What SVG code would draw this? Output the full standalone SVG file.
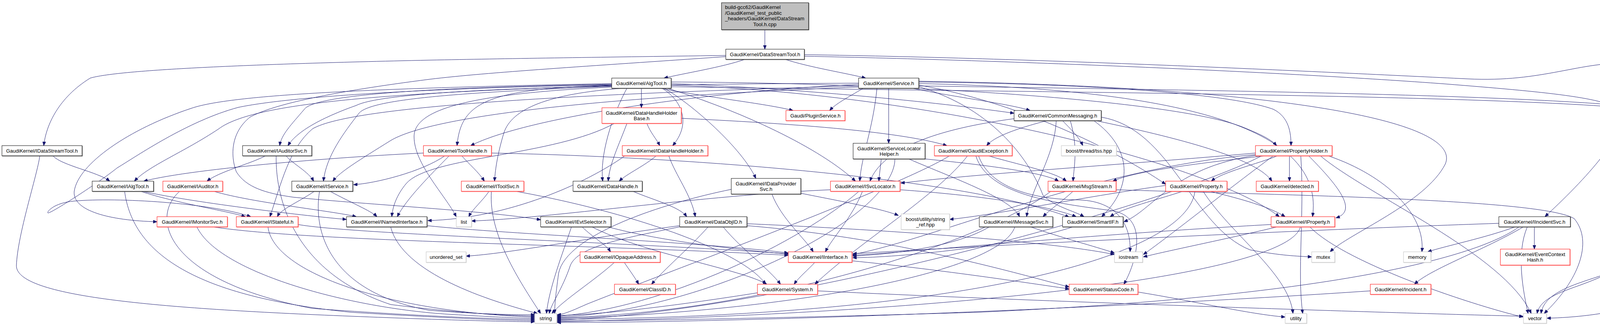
<svg xmlns="http://www.w3.org/2000/svg" width="4287" height="835" viewBox="0 0 4287 835">
<defs>
<style>
.n rect{fill:#fff;stroke:#000;stroke-width:1;filter:url(#shk)}
.n.r rect{stroke:#ff0000;filter:url(#shr)}
.n.g rect{stroke:#bfbfbf;filter:url(#shg)}
.n.t rect{fill:#bfbfbf;stroke:#000;filter:url(#shk)}
text{font-family:"Liberation Sans",Arial,Helvetica,sans-serif;font-size:13px;fill:#000;text-anchor:middle}
text.l{text-anchor:start}
#edges path{fill:none;stroke:#191970;stroke-width:1;marker-end:url(#arr)}
</style>
<filter id="shk" x="-5%" y="-10%" width="110%" height="130%"><feOffset in="SourceAlpha" dx="1" dy="1" result="o"/><feFlood flood-color="#555"/><feComposite in2="o" operator="in" result="s"/><feMerge><feMergeNode in="s"/><feMergeNode in="SourceGraphic"/></feMerge></filter>
<filter id="shr" x="-5%" y="-10%" width="110%" height="130%"><feOffset in="SourceAlpha" dx="1" dy="1" result="o"/><feFlood flood-color="#ff7070"/><feComposite in2="o" operator="in" result="s"/><feMerge><feMergeNode in="s"/><feMergeNode in="SourceGraphic"/></feMerge></filter>
<filter id="shg" x="-5%" y="-10%" width="110%" height="130%"><feOffset in="SourceAlpha" dx="1" dy="1" result="o"/><feFlood flood-color="#d8d8d8"/><feComposite in2="o" operator="in" result="s"/><feMerge><feMergeNode in="s"/><feMergeNode in="SourceGraphic"/></feMerge></filter>
<marker id="arr" viewBox="0 0 10 8" refX="10" refY="4" markerWidth="10" markerHeight="8" markerUnits="userSpaceOnUse" orient="auto"><path d="M0,0 L10,4 L0,8 Z" fill="#191970" stroke="#191970"/></marker>
</defs>
<rect width="4287" height="835" fill="#fff"/>
<g id="edges">
<path d="M1958,76 L1958,126"/>
<path d="M1907,152 C1850,172 1750,188 1700,200"/>
<path d="M2010,152 C2070,172 2170,188 2216,200"/>
<path d="M1858,142 C1500,147 1300,150 1100,154 C600,165 300,180 231,200 C150,250 118,320 112,373"/>
<path d="M1858,145 C1500,170 1250,185 1100,203 C850,235 700,267 640,300 C590,340 590,400 605,440 C630,480 680,495 750,505 C950,525 1250,540 1384,563"/>
<path d="M2059,144 C2600,155 3300,185 3700,215 C3950,235 4120,250 4150,285 C4170,330 4080,440 3955,555"/>
<path d="M2059,140 C2700,150 3400,185 3757,202 C3950,212 4050,155 4170,163 C4260,175 4283,250 4283,400 L4283,700 C4283,780 4100,812 3960,815"/>
<path d="M1642,226 L1642,276"/>
<path d="M1690,226 C1800,248 1960,265 2030,283"/>
<path d="M1718,214 C2000,225 2350,255 2596,290"/>
<path d="M1566,216 C1000,225 800,250 779,280 C745,320 720,345 716,373"/>
<path d="M1566,218 C1250,228 1180,260 1170,373"/>
<path d="M1695,226 C1750,260 1768,320 1722,373"/>
<path d="M1718,210 C2300,212 3000,255 3180,325 C3230,345 3255,358 3268,373"/>
<path d="M1566,219 C1000,238 650,262 560,330 C470,390 380,425 344,464"/>
<path d="M1566,221 C1200,236 950,252 919,290 C880,340 835,400 828,464"/>
<path d="M1596,226 C1400,240 1310,280 1290,340 C1275,390 1268,430 1266,464"/>
<path d="M1605,226 C1565,300 1535,400 1543,464"/>
<path d="M1700,226 C1770,265 1900,380 1935,457"/>
<path d="M1708,226 C1900,285 2100,380 2190,464"/>
<path d="M1566,214 C1000,225 600,240 491,277 C330,330 200,420 190,490 C185,540 280,565 402,568"/>
<path d="M1566,217 C1100,226 750,246 610,275 C480,310 350,400 300,430 C250,470 140,540 125,545 C115,550 130,520 190,515 C300,505 540,520 642,555"/>
<path d="M1566,223 C1200,240 1060,280 1060,350 C1060,420 1140,500 1168,555"/>
<path d="M1718,218 C2400,240 3100,420 3275,555"/>
<path d="M1718,222 C2500,235 3700,240 4147,275 C4200,300 4230,400 4230,600 C4230,720 3960,700 3945,803"/>
<path d="M2210,226 C2170,250 2140,265 2124,283"/>
<path d="M2335,226 C2450,250 2580,265 2637,283"/>
<path d="M2198,213 C1600,216 1000,226 912,270 C800,310 755,345 737,373"/>
<path d="M2198,216 C1800,235 1350,300 1205,373"/>
<path d="M2275,226 L2275,367"/>
<path d="M2352,210 C2800,215 3150,240 3260,280 C3300,300 3305,340 3305,373"/>
<path d="M2198,223 C1500,250 1100,300 1000,360 C920,410 870,440 852,464"/>
<path d="M2245,226 C2235,330 2205,400 2201,464"/>
<path d="M2352,218 C2600,260 2850,380 2984,472"/>
<path d="M2198,220 C1500,240 900,270 800,330 C740,380 720,470 691,555"/>
<path d="M2352,222 C2550,280 2640,420 2670,500 C2700,530 2750,540 2775,555"/>
<path d="M2352,214 C3100,230 3390,350 3360,555"/>
<path d="M2352,208 C3200,220 3750,300 3700,420 C3650,520 3450,600 3405,645"/>
<path d="M2352,220 C3000,230 3800,240 4147,270 C4200,330 4175,420 4180,600 C4185,740 3950,720 3935,803"/>
<path d="M1656,316 C1665,340 1680,355 1689,373"/>
<path d="M1605,316 C1585,370 1560,420 1557,464"/>
<path d="M1744,303 C2000,315 2300,335 2424,373"/>
<path d="M1573,316 C1420,400 1100,400 1040,470 C1015,500 1005,530 1003,555"/>
<path d="M2680,309 C2600,330 2545,350 2526,373"/>
<path d="M2720,309 C2740,330 2762,350 2772,373"/>
<path d="M2596,304 C2400,330 2260,380 2227,464"/>
<path d="M2704,309 C2700,400 2640,480 2628,555"/>
<path d="M2740,309 C2760,380 2750,420 2747,464"/>
<path d="M2800,309 C2900,380 2900,480 2820,555"/>
<path d="M2805,309 C3050,360 3220,410 3256,464"/>
<path d="M2819,300 C3000,330 3050,580 3200,640 C3280,655 3320,656 3358,658"/>
<path d="M135,399 C160,425 250,440 281,464"/>
<path d="M102,399 C95,450 45,600 42,680 C40,760 400,790 900,810 C1150,820 1300,824 1369,824"/>
<path d="M680,399 C640,420 560,440 530,464"/>
<path d="M732,399 C750,420 790,440 803,464"/>
<path d="M707,399 C705,520 760,700 1000,780 C1200,805 1320,809 1369,809"/>
<path d="M1084,392 C900,400 500,430 368,464"/>
<path d="M1182,399 C1200,420 1225,440 1240,464"/>
<path d="M1139,399 C1080,440 960,470 905,473"/>
<path d="M1150,399 C1100,450 1040,510 1017,555"/>
<path d="M1258,392 C1700,400 2450,450 2737,556"/>
<path d="M1680,399 C1650,425 1605,445 1585,464"/>
<path d="M1712,399 C1730,450 1770,500 1780,555"/>
<path d="M1600,399 C1500,470 1300,560 1095,565"/>
<path d="M2256,407 C2254,430 2251,445 2250,464"/>
<path d="M2347,405 C2500,420 2670,440 2710,464"/>
<path d="M2326,407 C2450,460 2590,510 2610,555"/>
<path d="M2291,407 C2290,560 1800,800 1426,812"/>
<path d="M2530,399 C2600,420 2700,440 2730,464"/>
<path d="M2498,399 C2530,500 2700,520 2850,540 C2950,560 2900,690 2877,728"/>
<path d="M2477,399 C2400,500 2200,620 2086,728"/>
<path d="M2505,399 C2530,470 2620,510 2760,512 C2880,515 2895,600 2893,645"/>
<path d="M2431,399 C2300,480 1700,700 1500,780 C1460,798 1440,806 1426,806"/>
<path d="M3301,399 L3301,464"/>
<path d="M3350,399 C3420,470 3480,540 3420,558"/>
<path d="M3270,399 C3220,420 3130,440 3101,464"/>
<path d="M3240,399 C3050,420 2900,440 2849,464"/>
<path d="M3214,392 C2900,420 2500,445 2306,469"/>
<path d="M3214,396 C2800,430 2400,610 2183,652"/>
<path d="M3230,399 C3000,520 2000,800 1426,820"/>
<path d="M3380,399 C3500,500 3850,650 3920,803"/>
<path d="M3330,399 C3340,550 3320,700 3335,803"/>
<path d="M3260,399 C3150,480 3000,600 2927,652"/>
<path d="M3400,399 C3550,450 3650,550 3640,645"/>
<path d="M3214,398 C3000,430 2950,540 2877,568"/>
<path d="M360,490 C450,520 580,540 628,555"/>
<path d="M365,490 C500,520 800,555 887,562"/>
<path d="M319,490 C340,650 500,760 900,800 C1150,815 1300,821 1369,821"/>
<path d="M547,490 C650,520 850,540 912,555"/>
<path d="M460,490 C380,560 430,720 800,790 C1100,812 1300,818 1369,818"/>
<path d="M805,490 C760,520 720,535 710,555"/>
<path d="M845,490 C900,520 950,540 965,555"/>
<path d="M818,490 C800,600 850,750 1100,795 C1250,806 1320,806 1369,806"/>
<path d="M1252,490 C1235,515 1210,535 1200,555"/>
<path d="M1258,490 C1250,600 1330,720 1384,803"/>
<path d="M1320,490 C1600,540 1900,640 1960,728"/>
<path d="M1620,490 C1680,515 1740,530 1758,555"/>
<path d="M1976,497 C2000,560 2060,610 2082,645"/>
<path d="M2050,495 C2150,515 2260,535 2300,552"/>
<path d="M1872,485 C1700,520 1450,600 1430,700 C1422,760 1420,780 1420,803"/>
<path d="M2208,490 C2180,560 2130,610 2113,645"/>
<path d="M2199,490 C2050,620 1700,790 1426,810"/>
<path d="M2304,486 C2500,500 2680,525 2755,555"/>
<path d="M2126,486 C1800,500 1400,560 1207,566"/>
<path d="M2747,490 C2720,515 2690,535 2670,555"/>
<path d="M2690,490 C2550,600 2000,800 1426,814"/>
<path d="M2857,486 C3300,500 3950,510 4030,560 C4080,620 4040,720 3953,803"/>
<path d="M2984,475 C2800,500 2550,550 2431,562"/>
<path d="M3028,490 C2950,515 2870,535 2842,555"/>
<path d="M3097,490 C3180,510 3250,530 3290,555"/>
<path d="M3059,490 C3040,650 2500,810 1426,818"/>
<path d="M3080,490 C3150,600 3300,700 3310,803"/>
<path d="M544,581 C800,620 1500,625 2018,654"/>
<path d="M504,581 C560,700 900,790 1150,805 C1280,813 1340,815 1369,815"/>
<path d="M763,575 C900,600 1600,620 2018,650"/>
<path d="M686,581 C700,700 1000,800 1369,812"/>
<path d="M1093,578 C1300,600 1800,620 2018,648"/>
<path d="M1000,581 C1030,700 1250,770 1376,803"/>
<path d="M1463,581 C1440,650 1405,740 1399,803"/>
<path d="M1490,581 C1520,610 1550,625 1563,645"/>
<path d="M1515,581 C1650,650 1900,690 1963,728"/>
<path d="M1556,581 C1700,620 1900,640 2018,651"/>
<path d="M1740,578 C1500,610 1300,650 1193,656"/>
<path d="M1740,581 C1600,610 1480,630 1460,680 C1440,740 1410,780 1406,803"/>
<path d="M1813,581 C1760,640 1700,690 1668,728"/>
<path d="M1851,581 C1900,640 1970,690 1998,728"/>
<path d="M1912,573 C2300,590 2700,620 2853,652"/>
<path d="M1912,578 C2300,610 2600,700 2737,735"/>
<path d="M2533,581 C2450,630 2300,650 2183,656"/>
<path d="M2598,581 C2560,700 2000,800 1426,816"/>
<path d="M2638,581 C2720,610 2800,630 2853,648"/>
<path d="M2747,581 C2600,630 2300,660 2183,660"/>
<path d="M3254,575 C2800,600 2400,640 2183,654"/>
<path d="M3270,581 C3150,610 3000,640 2927,658"/>
<path d="M3329,581 C3300,700 2500,800 1426,824"/>
<path d="M3353,581 C3450,680 3800,790 3899,812"/>
<path d="M3837,572 C3300,590 2500,630 2183,650"/>
<path d="M3879,581 C3800,610 3700,630 3655,645"/>
<path d="M3928,581 L3928,638"/>
<path d="M3900,581 C3800,640 3660,690 3621,728"/>
<path d="M3910,581 C3880,650 3900,750 3912,803"/>
<path d="M3889,581 C3780,660 3400,760 2500,800 C2000,815 1600,822 1426,822"/>
<path d="M1598,672 C1610,690 1625,710 1635,728"/>
<path d="M1573,672 C1520,720 1440,770 1413,803"/>
<path d="M2086,672 C2070,690 2045,710 2033,728"/>
<path d="M2181,668 C2400,690 2600,720 2737,740"/>
<path d="M1939,750 C1750,780 1550,806 1426,808"/>
<path d="M2093,745 C2600,770 3500,800 3899,810"/>
<path d="M2913,748 C3050,770 3200,805 3290,812"/>
<path d="M3508,745 C3000,780 2000,826 1426,826"/>
</g>
<g id="nodes">
<g id="n_top" class="n t"><rect x="1847" y="7" width="223" height="69"/><text class="l" x="1856" y="23">build-gcc62/GaudiKernel</text><text class="l" x="1856" y="38">/GaudiKernel_test_public</text><text class="l" x="1856" y="52">_headers/GaudiKernel/DataStream</text><text x="1958" y="67">Tool.h.cpp</text></g>
<g id="n_DataStreamTool" class="n"><rect x="1858" y="126" width="201" height="26"/><text x="1958.5" y="143.5">GaudiKernel/DataStreamTool.h</text></g>
<g id="n_AlgTool" class="n"><rect x="1566" y="200" width="152" height="26"/><text x="1642" y="217.5">GaudiKernel/AlgTool.h</text></g>
<g id="n_Service" class="n"><rect x="2198" y="200" width="154" height="26"/><text x="2275" y="217.5">GaudiKernel/Service.h</text></g>
<g id="n_DataHandleHolderBase" class="n r"><rect x="1541" y="276" width="203" height="40"/><text x="1642.5" y="294">GaudiKernel/DataHandleHolder</text><text x="1642.5" y="308">Base.h</text></g>
<g id="n_PluginService" class="n r"><rect x="2012" y="283" width="151" height="26"/><text x="2087.5" y="300.5">Gaudi/PluginService.h</text></g>
<g id="n_CommonMessaging" class="n"><rect x="2596" y="283" width="223" height="26"/><text x="2707.5" y="300.5">GaudiKernel/CommonMessaging.h</text></g>
<g id="n_IDataStreamTool" class="n"><rect x="5" y="373" width="205" height="26"/><text x="107.5" y="390.5">GaudiKernel/IDataStreamTool.h</text></g>
<g id="n_IAuditorSvc" class="n"><rect x="621" y="373" width="177" height="26"/><text x="709.5" y="390.5">GaudiKernel/IAuditorSvc.h</text></g>
<g id="n_ToolHandle" class="n r"><rect x="1084" y="373" width="174" height="26"/><text x="1171" y="390.5">GaudiKernel/ToolHandle.h</text></g>
<g id="n_IDataHandleHolder" class="n r"><rect x="1593" y="373" width="219" height="26"/><text x="1702.5" y="390.5">GaudiKernel/IDataHandleHolder.h</text></g>
<g id="n_ServiceLocatorHelper" class="n"><rect x="2184" y="367" width="184" height="40"/><text x="2276" y="385">GaudiKernel/ServiceLocator</text><text x="2276" y="399">Helper.h</text></g>
<g id="n_GaudiException" class="n r"><rect x="2392" y="373" width="199" height="26"/><text x="2491.5" y="390.5">GaudiKernel/GaudiException.h</text></g>
<g id="n_tss" class="n g"><rect x="2717" y="373" width="141" height="26"/><text x="2787.5" y="390.5">boost/thread/tss.hpp</text></g>
<g id="n_PropertyHolder" class="n r"><rect x="3214" y="373" width="196" height="26"/><text x="3312" y="390.5">GaudiKernel/PropertyHolder.h</text></g>
<g id="n_IAlgTool" class="n"><rect x="236" y="464" width="157" height="26"/><text x="314.5" y="481.5">GaudiKernel/IAlgTool.h</text></g>
<g id="n_IAuditor" class="n r"><rect x="417" y="464" width="153" height="26"/><text x="493.5" y="481.5">GaudiKernel/IAuditor.h</text></g>
<g id="n_IService" class="n"><rect x="747" y="464" width="156" height="26"/><text x="825" y="481.5">GaudiKernel/IService.h</text></g>
<g id="n_IToolSvc" class="n r"><rect x="1181" y="464" width="160" height="26"/><text x="1261" y="481.5">GaudiKernel/IToolSvc.h</text></g>
<g id="n_DataHandle" class="n"><rect x="1467" y="464" width="177" height="26"/><text x="1555.5" y="481.5">GaudiKernel/DataHandle.h</text></g>
<g id="n_IDataProviderSvc" class="n"><rect x="1872" y="457" width="178" height="40"/><text x="1961" y="475">GaudiKernel/IDataProvider</text><text x="1961" y="489">Svc.h</text></g>
<g id="n_ISvcLocator" class="n r"><rect x="2126" y="464" width="178" height="26"/><text x="2215" y="481.5">GaudiKernel/ISvcLocator.h</text></g>
<g id="n_MsgStream" class="n r"><rect x="2683" y="464" width="174" height="26"/><text x="2770" y="481.5">GaudiKernel/MsgStream.h</text></g>
<g id="n_Property" class="n r"><rect x="2984" y="464" width="157" height="26"/><text x="3062.5" y="481.5">GaudiKernel/Property.h</text></g>
<g id="n_detected" class="n r"><rect x="3216" y="464" width="159" height="26"/><text x="3295.5" y="481.5">GaudiKernel/detected.h</text></g>
<g id="n_IMonitorSvc" class="n r"><rect x="402" y="555" width="180" height="26"/><text x="492" y="572.5">GaudiKernel/IMonitorSvc.h</text></g>
<g id="n_IStateful" class="n r"><rect x="605" y="555" width="158" height="26"/><text x="684" y="572.5">GaudiKernel/IStateful.h</text></g>
<g id="n_INamedInterface" class="n"><rect x="887" y="555" width="206" height="26"/><text x="990" y="572.5">GaudiKernel/INamedInterface.h</text></g>
<g id="n_list" class="n g"><rect x="1168" y="555" width="39" height="26"/><text x="1187.5" y="572.5">list</text></g>
<g id="n_IEvtSelector" class="n"><rect x="1384" y="555" width="180" height="26"/><text x="1474" y="572.5">GaudiKernel/IEvtSelector.h</text></g>
<g id="n_DataObjID" class="n"><rect x="1740" y="555" width="172" height="26"/><text x="1826" y="572.5">GaudiKernel/DataObjID.h</text></g>
<g id="n_string_ref" class="n g"><rect x="2307" y="548" width="124" height="40"/><text x="2369" y="566">boost/utility/string</text><text x="2369" y="580">_ref.hpp</text></g>
<g id="n_IMessageSvc" class="n"><rect x="2507" y="555" width="188" height="26"/><text x="2601" y="572.5">GaudiKernel/IMessageSvc.h</text></g>
<g id="n_SmartIF" class="n"><rect x="2720" y="555" width="155" height="26"/><text x="2797.5" y="572.5">GaudiKernel/SmartIF.h</text></g>
<g id="n_IProperty" class="n r"><rect x="3254" y="555" width="163" height="26"/><text x="3335.5" y="572.5">GaudiKernel/IProperty.h</text></g>
<g id="n_IIncidentSvc" class="n"><rect x="3837" y="555" width="183" height="26"/><text x="3928.5" y="572.5">GaudiKernel/IIncidentSvc.h</text></g>
<g id="n_unordered_set" class="n g"><rect x="1091" y="645" width="102" height="27"/><text x="1142" y="663">unordered_set</text></g>
<g id="n_IOpaqueAddress" class="n r"><rect x="1485" y="645" width="205" height="27"/><text x="1587.5" y="663">GaudiKernel/IOpaqueAddress.h</text></g>
<g id="n_IInterface" class="n r"><rect x="2018" y="645" width="163" height="27"/><text x="2099.5" y="663">GaudiKernel/IInterface.h</text></g>
<g id="n_iostream" class="n g"><rect x="2853" y="645" width="72" height="27"/><text x="2889" y="663">iostream</text></g>
<g id="n_mutex" class="n g"><rect x="3358" y="645" width="59" height="27"/><text x="3387.5" y="663">mutex</text></g>
<g id="n_memory" class="n g"><rect x="3593" y="645" width="70" height="27"/><text x="3628" y="663">memory</text></g>
<g id="n_EventContextHash" class="n r"><rect x="3841" y="638" width="178" height="41"/><text x="3930" y="656">GaudiKernel/EventContext</text><text x="3930" y="670">Hash.h</text></g>
<g id="n_ClassID" class="n r"><rect x="1573" y="728" width="156" height="26"/><text x="1651" y="745.5">GaudiKernel/ClassID.h</text></g>
<g id="n_System" class="n r"><rect x="1939" y="728" width="154" height="26"/><text x="2016" y="745.5">GaudiKernel/System.h</text></g>
<g id="n_StatusCode" class="n r"><rect x="2737" y="728" width="176" height="26"/><text x="2825" y="745.5">GaudiKernel/StatusCode.h</text></g>
<g id="n_Incident" class="n r"><rect x="3508" y="728" width="155" height="26"/><text x="3585.5" y="745.5">GaudiKernel/Incident.h</text></g>
<g id="n_string" class="n g"><rect x="1369" y="803" width="56" height="25"/><text x="1397" y="820">string</text></g>
<g id="n_utility" class="n g"><rect x="3290" y="803" width="55" height="25"/><text x="3317.5" y="820">utility</text></g>
<g id="n_vector" class="n g"><rect x="3900" y="803" width="59" height="25"/><text x="3929.5" y="820">vector</text></g>
</g>
</svg>
